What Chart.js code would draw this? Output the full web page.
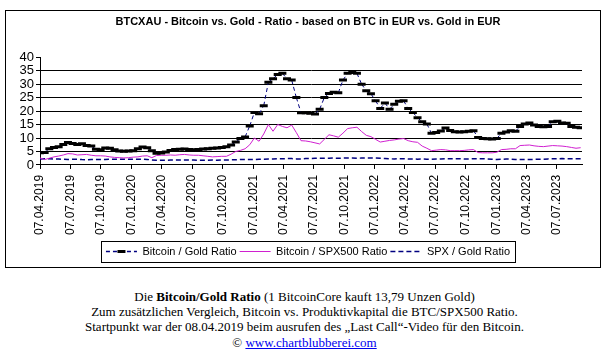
<!DOCTYPE html>
<html><head><meta charset="utf-8">
<script src="https://cdn.jsdelivr.net/npm/chart.js@4.4.1/dist/chart.umd.min.js"></script>
<style>
html,body{margin:0;padding:0;background:#fff;width:605px;height:355px;overflow:hidden}
#box{position:absolute;left:5px;top:10px;width:594px;height:256px;border:1px solid #000;}
#box canvas{display:block}
#txt{position:absolute;left:2px;top:289px;width:605px;text-align:center;font-family:"Liberation Serif","Times New Roman",serif;font-size:13px;line-height:15px;color:#000}
#txt a{color:#0000ee;text-decoration:underline}
#txt .last{display:block;margin-top:1px}
</style></head><body>
<div id="box"><canvas id="c" width="594" height="256"></canvas></div>
<div id="txt">Die <b>Bitcoin/Gold Ratio</b> (1 BitcoinCore kauft 13,79 Unzen Gold)<br>Zum zusätzlichen Vergleich, Bitcoin vs. Produktivkapital die BTC/SPX500 Ratio.<br>Startpunkt war der 08.04.2019 beim ausrufen des „Last Call“-Video für den Bitcoin.<span class="last">© <a href="#">www.chartblubberei.com</a></span></div>
<script>
// ---- data (bi-weekly observations starting 07.04.2019) ----
const START_DATE = '07.04.2019';
const STEP_DAYS = 14;
const AXIS_END_DAYS = 1628;

const tickLabels = ['07.04.2019','07.07.2019','07.10.2019','07.01.2020','07.04.2020','07.07.2020','07.10.2020','07.01.2021','07.04.2021','07.07.2021','07.10.2021','07.01.2022','07.04.2022','07.07.2022','07.10.2022','07.01.2023','07.04.2023','07.07.2023'];

const btcGold = [
 4.5, 4.6, 6.0, 6.5, 6.8, 7.6, 8.3, 8.0, 7.6, 7.9,
 7.2, 7.0, 5.8, 5.6, 6.3, 6.2, 5.6, 5.2, 5.1, 5.2,
 5.3, 6.0, 6.7, 6.4, 5.3, 4.3, 4.4, 4.8, 5.4, 5.7,
 5.8, 5.9, 5.7, 5.6, 5.7, 5.9, 6.0, 6.2, 6.3, 6.5,
 6.8, 7.4, 8.5, 9.8, 10.4, 14.5, 19.5, 19.0, 22.0, 30.7,
 32.0, 33.6, 34.0, 32.0, 31.5, 25.0, 19.4, 19.4, 19.2, 18.9,
 20.7, 25.0, 26.5, 27.0, 26.8, 31.5, 34.0, 34.3, 34.0, 30.0,
 27.5, 26.4, 23.8, 21.0, 23.0, 20.7, 22.5, 23.6, 23.8, 21.0,
 19.5, 17.5, 16.0, 15.2, 11.8, 12.0, 12.6, 13.7, 12.8, 12.3,
 12.2, 12.3, 12.5, 12.7, 10.2, 9.8, 9.7, 9.6, 9.8, 11.8,
 12.2, 12.7, 12.5, 14.3, 15.2, 15.6, 14.8, 14.3, 14.2, 14.3,
 16.0, 16.2, 15.6, 15.5, 14.3, 14.0, 13.8
];

const btcSpx = [
 2.6, 2.0, 2.5, 3.0, 3.3, 3.7, 4.2, 4.1, 3.7, 3.8,
 3.9, 3.6, 3.4, 3.4, 3.3, 3.0, 2.8, 2.7, 2.6, 2.7,
 2.9, 3.0, 3.3, 3.4, 2.7, 3.5, 3.6, 3.6, 3.7, 3.6,
 3.8, 3.9, 3.7, 3.6, 3.6, 3.4, 3.2, 3.0, 3.1, 3.2,
 3.2, 4.0, 5.0, 5.4, 6.0, 7.5, 10.0, 8.8, 11.5, 15.0,
 12.5, 15.0, 14.3, 13.8, 14.8, 12.0, 9.0, 8.9, 8.6, 8.2,
 7.8, 9.5, 11.2, 10.8, 10.3, 11.8, 13.5, 13.8, 14.0, 12.4,
 11.0, 10.5, 9.5, 8.5, 8.8, 9.1, 9.3, 9.6, 9.8, 9.0,
 8.6, 8.4, 7.0, 6.2, 5.3, 5.5, 5.7, 5.6, 5.3, 5.3,
 5.3, 5.4, 5.6, 5.7, 4.6, 4.5, 4.5, 4.5, 4.7, 5.7,
 5.8, 6.0, 6.0, 7.2, 7.3, 7.4, 7.1, 6.9, 6.8, 7.0,
 7.2, 7.1, 7.0, 6.8, 6.5, 6.2, 6.4
];

const spxGold = [
 2.25, 2.3, 2.3, 2.2, 2.2, 2.1, 2.05, 2.1, 2.1, 2.0, 1.95, 2.0, 2.0,
 2.0, 2.05, 2.1, 2.15, 2.1, 2.15, 2.1, 2.1, 2.1, 2.1, 2.05,
 1.85, 1.7, 1.75, 1.75, 1.8, 1.8, 1.8, 1.85, 1.8, 1.8, 1.75, 1.7, 1.75, 1.8, 1.75, 1.85, 1.85,
 1.9, 1.95, 2.0, 2.0, 2.0, 2.05, 2.1, 2.15, 2.2, 2.2, 2.3, 2.3, 2.35, 2.35,
 2.25, 2.2, 2.4, 2.4, 2.45, 2.45, 2.45, 2.5, 2.55, 2.5, 2.55, 2.55, 2.55, 2.5, 2.55, 2.6, 2.6,
 2.55, 2.45, 2.4, 2.3, 2.2, 2.3, 2.3, 2.2, 2.2, 2.15, 2.2, 2.15, 2.1,
 2.2, 2.25, 2.35, 2.3, 2.3, 2.3, 2.2, 2.2, 2.3, 2.25, 2.3, 2.2, 2.1,
 2.05, 2.1, 2.2, 2.15, 2.0, 2.0, 2.05, 2.05, 2.05, 2.1, 2.15, 2.25, 2.3, 2.3, 2.35, 2.3, 2.3, 2.3, 2.3
];

// ---- helpers ----
function parseDE(s){const [d,m,y]=s.split('.').map(Number);return Date.UTC(y,m-1,d);}
const t0 = parseDE(START_DATE);
const DAY = 86400000;
const tickDays = tickLabels.map(s => Math.round((parseDE(s)-t0)/DAY));
const toPts = arr => arr.map((v,i)=>({x:i*STEP_DAYS, y:v}));

const FONT = '"Liberation Sans", Arial, sans-serif';
const SAMPLE_W = 31;

const legendDecor = {
  id:'legendDecor',
  afterDraw(chart){
    const lg = chart.legend; if(!lg || !lg.legendHitBoxes.length) return;
    const hb = lg.legendHitBoxes;
    const ctx = chart.ctx;
    const left = Math.min(...hb.map(h=>h.left)) - 5;
    const right = Math.max(...hb.map(h=>h.left+h.width)) + 5;
    const top = hb[0].top - 5;
    const bottom = hb[0].top + hb[0].height + 5;
    ctx.save();
    ctx.strokeStyle='#000'; ctx.lineWidth=1;
    ctx.strokeRect(Math.round(left)+0.5, Math.round(top)+0.5, Math.round(right-left), Math.round(bottom-top));
    const cx = hb[0].left + SAMPLE_W/2, cy = hb[0].top + 11/2;
    ctx.beginPath(); ctx.moveTo(cx-4,cy); ctx.lineTo(cx+4,cy);
    ctx.lineWidth=3; ctx.strokeStyle='#000'; ctx.stroke();
    ctx.restore();
  }
};

new Chart(document.getElementById('c'), {
  type:'line',
  data:{datasets:[
    {label:'Bitcoin / Gold Ratio', data:toPts(btcGold), borderColor:'#000080', borderWidth:1, borderDash:[4,3],
     pointStyle:'line', pointRadius:4, pointBorderWidth:3, pointBorderColor:'#000', pointBackgroundColor:'#000',
     legendWidth:1.5,
     segment:{borderDashOffset: c => (c.p0DataIndex % 2 ? 0.01 : 0)}},
    {label:'Bitcoin / SPX500 Ratio', data:toPts(btcSpx), borderColor:'#d020d0', borderWidth:1, pointRadius:0, legendWidth:1},
    {label:'SPX / Gold Ratio', data:toPts(spxGold), borderColor:'#000080', borderWidth:1.5, borderDash:[5,3], pointRadius:0, legendWidth:1.5}
  ]},
  options:{
    responsive:false, animation:false, devicePixelRatio:1, events:[],
    layout:{padding:{left:10,right:0,top:0,bottom:0}},
    plugins:{
      title:{display:true, text:'BTCXAU - Bitcoin vs. Gold - Ratio - based on BTC in EUR vs. Gold in EUR',
        color:'#000', font:{family:FONT, size:11, weight:'bold'}, padding:{top:4,bottom:29}},
      legend:{position:'bottom', labels:{
        usePointStyle:true, pointStyleWidth:SAMPLE_W, boxHeight:8, padding:3, color:'#000',
        font:{family:FONT, size:11},
        generateLabels: chart => chart.data.datasets.map((ds,i)=>({
          text:ds.label, fillStyle:'rgba(0,0,0,0)', strokeStyle:ds.borderColor,
          lineWidth:ds.legendWidth, lineDash:ds.borderDash||[], pointStyle:'line',
          datasetIndex:i, fontColor:'#000', hidden:false
        }))
      }},
      tooltip:{enabled:false}
    },
    scales:{
      x:{type:'linear', min:0, max:AXIS_END_DAYS,
        afterBuildTicks: s => { s.ticks = tickDays.map(v=>({value:v})); },
        afterFit: s => { s.height = s.height + 2; },
        ticks:{autoSkip:false, maxRotation:90, minRotation:90, padding:6, color:'#000',
          font:{family:FONT,size:12}, callback:(v,i)=>tickLabels[i]},
        grid:{drawOnChartArea:false, drawTicks:true, tickLength:4, color:'#000'},
        border:{color:'#000', width:1}
      },
      y:{min:0, max:40,
        afterFit: s => { s.width = 24; },
        ticks:{stepSize:5, autoSkip:false, padding:2, color:'#000', font:{family:FONT,size:13,lineHeight:1}},
        grid:{color: c => (c.tick && c.tick.value===40 ? 'rgba(0,0,0,0)' : '#000'), tickColor:'#000', tickLength:4, lineWidth:1},
        border:{color:'#000', width:1}
      },
      y2:{position:'right', display:true, min:0, max:40,
        afterFit: s => { s.width = 18; },
        ticks:{display:false}, grid:{display:false, drawTicks:false}, border:{display:false}
      }
    }
  },
  plugins:[legendDecor]
});
</script>
</body></html>
